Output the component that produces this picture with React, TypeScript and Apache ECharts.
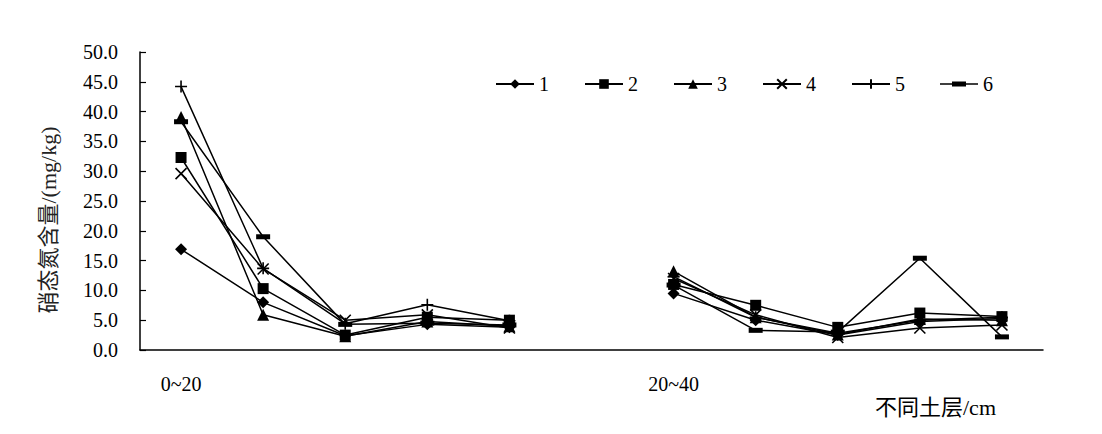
import React, { useEffect, useRef } from "react";
import * as echarts from "echarts";

const categories = ["0~20", "a2", "a3", "a4", "a5", "gap", "20~40", "b2", "b3", "b4", "b5"];
const shownLabels = ["0~20", "20~40"];
const seriesNames = ["1", "2", "3", "4", "5", "6"];
const yAxisTitle = "硝态氮含量/(mg/kg)";
const xAxisTitle = "不同土层/cm";

const s1 = [16.9, 8.0, 2.4, 4.3, 3.8, "-", 9.5, 5.0, 2.5, 4.8, 5.3];
const s2 = [32.3, 10.3, 2.5, 5.5, 5.0, "-", 11.0, 7.5, 3.8, 6.2, 5.6];
const s3 = [39.1, 5.9, 2.3, 4.8, 4.0, "-", 13.2, 5.5, 2.6, 5.2, 5.0];
const s4 = [29.6, 13.6, 5.0, 5.9, 3.7, "-", 12.0, 5.9, 2.1, 3.7, 4.2];
const s5 = [44.2, 13.7, 4.4, 7.6, 4.9, "-", 12.3, 5.5, 2.8, 5.0, 5.5];
const s6 = [38.3, 19.0, 4.3, 4.5, 4.2, "-", 10.9, 3.3, 3.0, 15.4, 2.2];
const allSeries = [s1, s2, s3, s4, s5, s6];

const yTicks = { min: 0, max: 50, interval: 5 };

const FONT = '"Liberation Serif", "Noto Sans CJK SC", serif';

const symbols: any[] = [
  { symbol: "diamond", size: 12 },
  { symbol: "rect", size: 11 },
  { symbol: "triangle", size: 12 },
  { symbol: "path://M0,0L10,10M10,0L0,10", size: 11 },
  { symbol: "path://M5,0L5,10M0,5L10,5", size: 12 },
  { symbol: "rect", size: [14, 5] },
];

const barLegendIcon = "path://M0,5.25H12V3.5H26V5.25H38V6.75H26V8.5H12V6.75H0Z";

export default function App() {
  const ref = useRef<HTMLDivElement>(null);
  useEffect(() => {
    document.body.style.margin = "0";
    const chart = echarts.init(ref.current!, null, { renderer: "svg" });
    const option: any = {
      animation: false,
      backgroundColor: "#ffffff",
      textStyle: { fontFamily: FONT },
      grid: { left: 140, right: 59, top: 52, bottom: 84 },
      legend: {
        data: seriesNames.map((n, i) => (i === 5 ? { name: n, icon: barLegendIcon } : { name: n })),
        left: 490,
        top: 69,
        itemWidth: 38,
        itemHeight: 12,
        itemGap: 35,
        textStyle: { fontFamily: FONT, fontSize: 20, color: "#000" },
      },
      xAxis: {
        type: "category",
        data: categories,
        boundaryGap: true,
        axisLine: { lineStyle: { color: "#000", width: 1.5 } },
        axisTick: { inside: true, length: 6, interval: 0, lineStyle: { color: "#000", width: 1.2 } },
        axisLabel: {
          interval: 0,
          margin: 24,
          fontFamily: FONT,
          fontSize: 20,
          color: "#000",
          formatter: (v: string) => (shownLabels.includes(v) ? v : ""),
        },
        splitLine: { show: false },
      },
      yAxis: {
        type: "value",
        min: yTicks.min,
        max: yTicks.max,
        interval: yTicks.interval,
        axisLine: { show: true, lineStyle: { color: "#000", width: 1.5 } },
        axisTick: { show: true, inside: true, length: 6, lineStyle: { color: "#000", width: 1.2 } },
        axisLabel: {
          margin: 22,
          fontFamily: FONT,
          fontSize: 20,
          color: "#000",
          formatter: (v: number) => v.toFixed(1),
        },
        splitLine: { show: false },
      },
      graphic: [
        {
          type: "text",
          x: 48,
          y: 220,
          rotation: Math.PI / 2,
          style: {
            text: yAxisTitle,
            fontFamily: FONT,
            fontSize: 22,
            fill: "#222",
            align: "center",
            verticalAlign: "middle",
          },
        },
        {
          type: "text",
          left: 875,
          top: 396,
          style: { text: xAxisTitle, fontFamily: FONT, fontSize: 22, fill: "#000" },
        },
      ],
      series: allSeries.map((d, i) => ({
        name: seriesNames[i],
        type: "line",
        data: d,
        connectNulls: false,
        symbol: symbols[i].symbol,
        symbolSize: symbols[i].size,
        showAllSymbol: true,
        lineStyle: { color: "#000", width: 1.5 },
        itemStyle: { color: "#000", borderColor: "#000", borderWidth: i === 3 || i === 4 ? 1.6 : 0 },
        emphasis: { disabled: true },
      })),
    };
    chart.setOption(option);
    return () => chart.dispose();
  }, []);
  return <div ref={ref} style={{ width: 1102, height: 434 }} />;
}
